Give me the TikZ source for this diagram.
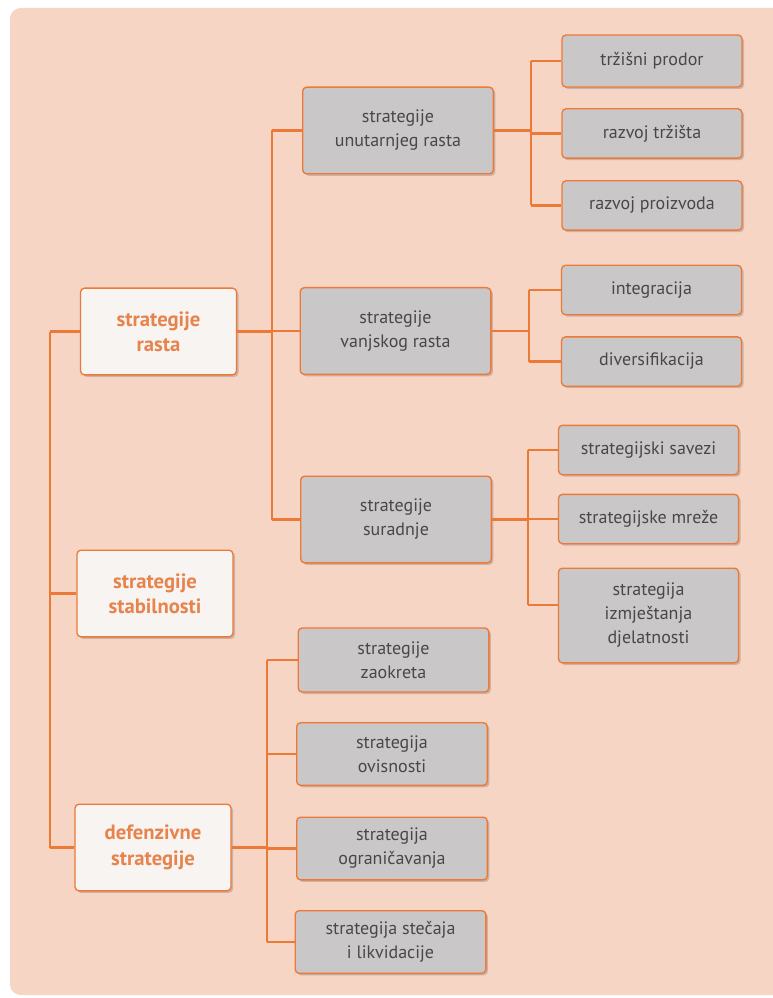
\documentclass[tikz,border=0pt]{standalone}
\usepackage{fontspec}
\setmainfont{PT Sans}
\usepackage{xcolor}
\usepackage{tikz}
\usetikzlibrary{calc}
\usetikzlibrary{shadows}
\definecolor{bgpink}{RGB}{246,213,197}
\definecolor{boxgray}{RGB}{201,199,199}
\definecolor{boxwhite}{RGB}{247,244,242}
\definecolor{lineorange}{RGB}{237,121,54}
\definecolor{textorange}{RGB}{231,131,76}
\definecolor{textgray}{RGB}{72,72,72}

\begin{document}
\begin{tikzpicture}[x=0.75pt,y=-0.75pt,
	link/.style={lineorange,line width=2pt},
	basebox/.style={draw=lineorange,line width=1pt,rounded corners=3pt,align=center,inner sep=2pt,
		drop shadow={shadow xshift=1.5pt,shadow yshift=-1.5pt,opacity=0.25,fill=black!70}},
	mainbox/.style={basebox,fill=boxwhite,text=textorange,font=\fontsize{15.5}{19}\selectfont\bfseries,minimum width=117pt,minimum height=65pt},
	subbox/.style={basebox,fill=boxgray,text=textgray,font=\fontsize{13.5}{18}\selectfont,minimum width=143pt},
	leafbox/.style={basebox,fill=boxgray,text=textgray,font=\fontsize{13.5}{18}\selectfont,minimum width=135pt}]
	\useasboundingbox (0,0) rectangle (772,998);
	\fill[white] (0,0) rectangle (772,998);
	\fill[bgpink,rounded corners=8pt] (10,8) rectangle (790,995);

	\node[mainbox] (rasta) at (158.5,331.5) {strategije\\rasta};
	\node[mainbox] (stab) at (155,593.5) {strategije\\stabilnosti};
	\node[mainbox] (def) at (153,847.5) {defenzivne\\strategije};

	\node[subbox,minimum height=65pt] (unut) at (398,130.5) {strategije\\unutarnjeg rasta};
	\node[subbox,minimum height=65pt] (vanj) at (395.5,331) {strategije\\vanjskog rasta};
	\node[subbox,minimum height=65pt] (sur) at (396,519.5) {strategije\\suradnje};
	\node[subbox,minimum height=48pt] (zaok) at (393.5,660) {strategije\\zaokreta};
	\node[subbox,minimum height=47pt] (ovis) at (392,754) {strategija\\ovisnosti};
	\node[subbox,minimum height=47pt] (ogr) at (392,848.5) {strategija\\ograničavanja};
	\node[subbox,minimum height=47pt] (stec) at (390.5,942) {strategija stečaja\\i likvidacije};

	\node[leafbox,minimum height=39pt] (prodor) at (652,61) {tržišni prodor};
	\node[leafbox,minimum height=37pt] (trziste) at (652,133.5) {razvoj tržišta};
	\node[leafbox,minimum height=37pt] (proizv) at (652,205.5) {razvoj proizvoda};
	\node[leafbox,minimum height=37pt] (integ) at (651.5,290) {integracija};
	\node[leafbox,minimum height=37pt] (divers) at (651.5,361.5) {diversifikacija};
	\node[leafbox,minimum height=37pt] (savezi) at (648.5,450) {strategijski savezi};
	\node[leafbox,minimum height=37pt] (mreze) at (648.5,519) {strategijske mreže};
	\node[leafbox,minimum height=71pt] (izmj) at (648.5,615.5) {strategija\\izmještanja\\djelatnosti};

	\coordinate (ta) at (50,0);
	\coordinate (tb) at (272,0);
	\coordinate (tc) at (267,0);
	\coordinate (td) at (531,0);
	\coordinate (te) at (529,0);
	\coordinate (tf) at (528,0);

	\draw[link] (rasta.west -| ta) -- (def.west -| ta);
	\foreach \n in {rasta,stab,def} \draw[link] (\n.west -| ta) -- (\n.west);

	\draw[link] (rasta.east) -- (rasta.east -| tb);
	\draw[link] (unut.west -| tb) -- (sur.west -| tb);
	\foreach \n in {unut,vanj,sur} \draw[link] (\n.west -| tb) -- (\n.west);

	\draw[link] (def.east) -- (def.east -| tc);
	\draw[link] (zaok.west -| tc) -- (stec.west -| tc);
	\foreach \n in {zaok,ovis,ogr,stec} \draw[link] (\n.west -| tc) -- (\n.west);

	\draw[link] (unut.east) -- (unut.east -| td);
	\draw[link] (prodor.west -| td) -- (proizv.west -| td);
	\foreach \n in {prodor,trziste,proizv} \draw[link] (\n.west -| td) -- (\n.west);

	\draw[link] (vanj.east) -- (vanj.east -| te);
	\draw[link] (integ.west -| te) -- (divers.west -| te);
	\foreach \n in {integ,divers} \draw[link] (\n.west -| te) -- (\n.west);

	\draw[link] (sur.east) -- (sur.east -| tf);
	\draw[link] (savezi.west -| tf) -- ([yshift=8pt]izmj.west -| tf);
	\foreach \n in {savezi,mreze} \draw[link] (\n.west -| tf) -- (\n.west);
	\draw[link] ([yshift=8pt]izmj.west -| tf) -- ([yshift=8pt]izmj.west);
\end{tikzpicture}
\end{document}
